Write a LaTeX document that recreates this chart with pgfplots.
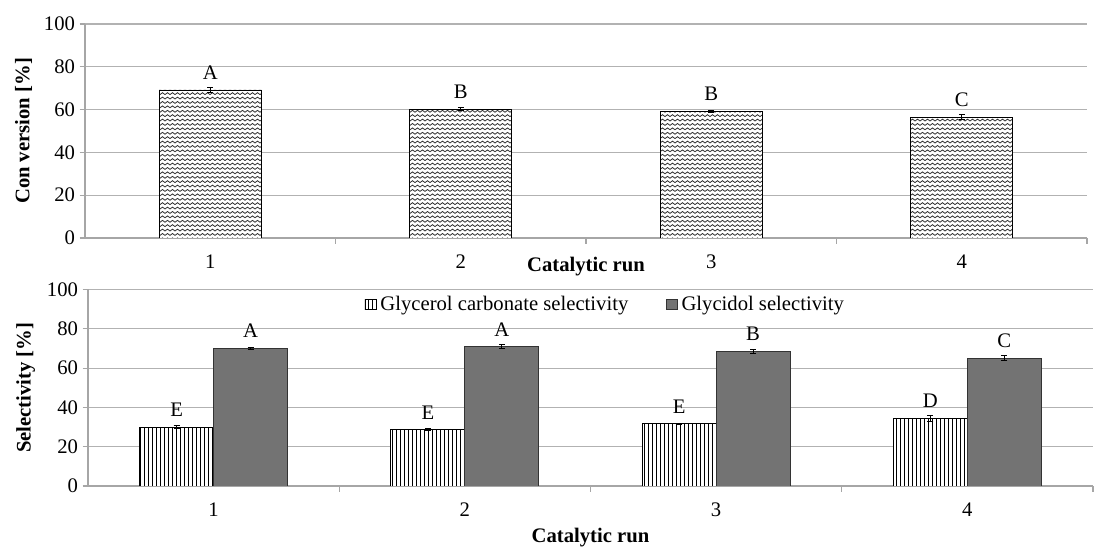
\documentclass[border=0pt]{standalone}
\usepackage{fontspec}
\setmainfont{Liberation Serif}
\usepackage{pgfplots}
\pgfplotsset{compat=1.18}
\usetikzlibrary{patterns}

% zigzag fill like the spreadsheet pattern
\pgfdeclarepatternformonly{zigzag}{\pgfpoint{-0.5pt}{-0.5pt}}{\pgfpoint{4.25pt}{3.9pt}}{\pgfpoint{3.75pt}{3.3pt}}{%
  \pgfsetlinewidth{0.6pt}%
  \pgfpathmoveto{\pgfpoint{0pt}{0.9pt}}%
  \pgfpathlineto{\pgfpoint{1.875pt}{2.3pt}}%
  \pgfpathlineto{\pgfpoint{3.75pt}{0.9pt}}%
  \pgfusepath{stroke}}

\pgfplotsset{
  runaxis/.style={
    scale only axis,
    ymin=0, ymax=100, ytick={0,20,...,100},
    xmin=0.5, xmax=4.5, xtick={1,2,3,4},
    minor xtick={1.5,2.5,3.5,4.5},
    axis lines*=left,
    axis line style={draw=black!35, line width=0.8pt},
    ymajorgrids,
    grid style={draw=black!30, line width=0.8pt},
    tick align=outside,
    major x tick style={draw=none},
    minor x tick style={draw=black!35, line width=0.8pt},
    minor tick length=4.5pt,
    ytick style={draw=black!35, line width=0.8pt},
    major tick length=4pt,
    /pgf/number format/assume math mode=true,
    tick label style={font=\fontsize{15.5}{18}\selectfont},
    label style={font=\fontsize{15.5}{18}\selectfont\bfseries},
    ylabel style={at={(ticklabel cs:0.5)}, anchor=south, yshift=2pt},
    xticklabel style={yshift=-5pt},
    error bars/y dir=both, error bars/y explicit,
    error bars/error bar style={black, line width=0.6pt},
    error bars/error mark options={rotate=90, mark size=2.2pt, black, line width=0.6pt},
    nodes near coords,
    point meta=explicit symbolic,
    nodes near coords style={font=\fontsize{15.5}{18}\selectfont, anchor=south, inner sep=0pt, yshift=7.5pt, text=black},
  }
}

\begin{document}
\begin{tikzpicture}
\useasboundingbox (0,0) rectangle (833.25pt,411.75pt);

% top: conversion
\begin{axis}[runaxis,
  at={(63.75pt,233.25pt)}, anchor=south west,
  width=751.5pt, height=160.5pt,
  ylabel={Con version [\%]},
  xlabel={Catalytic run},
  xlabel style={at={(axis description cs:0.5,0)}, anchor=north, yshift=-10.5pt},
  ybar, bar width=76.5pt,
]
\addplot[draw=black, line width=0.6pt, fill=white, postaction={pattern=zigzag, pattern color=black!80}]
  table[x=run, y=val, y error=err, meta=lab] {
run val err lab
1 69.2 1.0 A
2 60.3 0.5 B
3 59.2 0.6 B
4 56.5 1.2 C
};
\end{axis}

% bottom: selectivity
\begin{axis}[runaxis,
  at={(66pt,47.25pt)}, anchor=south west,
  width=753.75pt, height=147.4pt,
  ylabel={Selectivity [\%]},
  xlabel={Catalytic run},
  xlabel style={yshift=-2pt},
  ybar=0pt, bar width=55.5pt,
  legend columns=2,
  legend style={at={(0.515,0.925)}, anchor=center, draw=none, fill=white,
    font=\fontsize{15.5}{18}\selectfont, inner sep=1pt,
    /tikz/every odd column/.append style={column sep=1pt},
    /tikz/every even column/.append style={column sep=26pt}},
  legend image code/.code={\draw[#1, line width=0.4pt] (0pt,-3.8pt) rectangle (8.5pt,3.8pt);},
]
\addplot[draw=black, line width=0.6pt, fill=white, postaction={pattern=vertical lines, pattern color=black}]
  table[x=run, y=val, y error=err, meta=lab] {
run val err lab
1 29.9 0.8 E
2 28.7 0.4 E
3 31.6 0.5 E
4 34.5 1.5 D
};
\addlegendentry{Glycerol carbonate selectivity}
\addplot[draw=black!80, line width=0.6pt, fill=black!55]
  table[x=run, y=val, y error=err, meta=lab] {
run val err lab
1 70.1 0.4 A
2 71.0 0.8 A
3 68.5 0.8 B
4 65.0 1.2 C
};
\addlegendentry{Glycidol selectivity}
\end{axis}
\end{tikzpicture}
\end{document}
